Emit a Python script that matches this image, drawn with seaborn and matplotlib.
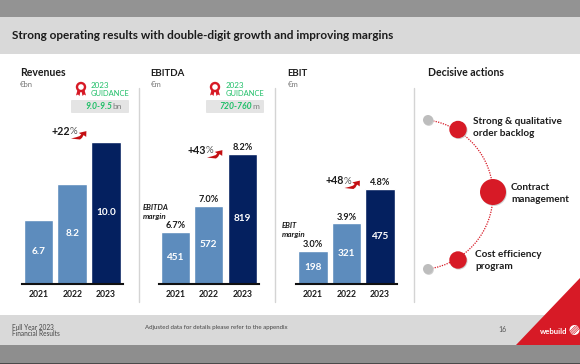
import numpy as np
import matplotlib
matplotlib.use("Agg")
import matplotlib.pyplot as plt
from matplotlib.patches import Rectangle, Polygon, Circle, Arc, FancyBboxPatch
import seaborn as sns

years = ["2021", "2022", "2023"]
revenues = [6.7, 8.2, 10.0]
revenue_labels = ["6.7", "8.2", "10.0"]
ebitda = [451, 572, 819]
ebitda_margin = ["6.7%", "7.0%", "8.2%"]
ebit = [198, 321, 475]
ebit_margin = ["3.0%", "3.9%", "4.8%"]

W, H = 580, 364
LIGHT, DARK = "#5d8cbd", "#04205f"
RED, GREEN = "#d71a26", "#20bf68"
INK = "#1c1c1c"

sns.set_theme(style="white")
plt.rcParams["font.family"] = ["Lato", "DejaVu Sans"]

fig = plt.figure(figsize=(W / 100, H / 100), dpi=100, facecolor="white")
bg = fig.add_axes([0, 0, 1, 1], zorder=0)
bg.set_xlim(0, W)
bg.set_ylim(H, 0)
bg.axis("off")


def txt(x, y, s, size=7.0, weight="normal", color=INK, style="normal", ha="left", ax=bg, z=6):
    return ax.text(x, y, s, fontsize=size, fontweight=weight, color=color, fontstyle=style,
                   ha=ha, va="center", zorder=z)


# Slide bands
bg.add_patch(Rectangle((0, 0), W, 17, color="#939393", lw=0))
bg.add_patch(Rectangle((0, 17), W, 37, color="#d9d9d9", lw=0))
bg.add_patch(Rectangle((0, 315), W, 30, color="#d9d9d9", lw=0))
bg.add_patch(Rectangle((0, 345), W, 19, color="#8e8e8e", lw=0))
bg.add_patch(Rectangle((0, 362.6), W, 1.4, color="#4a4a4a", lw=0))
bg.add_patch(Polygon([(516, 345), (580, 278), (580, 345)], closed=True, color=RED, lw=0))

txt(12, 35.5, "Strong operating results with double-digit growth and improving margins", 8.45, "bold")

# Column separators
for sx in (139, 275, 413.5):
    bg.plot([sx, sx], [88, 302], color="#d4d4d4", lw=1.0, zorder=2)


def panel(left, right, values, ylim, labels):
    axis = fig.add_axes([left / W, 1 - 283.5 / H, (right - left) / W, 153.5 / H], zorder=2)
    axis.patch.set_alpha(0)
    sns.barplot(x=years, y=values, hue=years, palette=[LIGHT, LIGHT, DARK], width=0.88,
                legend=False, saturation=1, ax=axis)
    axis.set_xlim(-0.5, 2.5)
    axis.set_ylim(*ylim)
    axis.set_yticks([])
    axis.set_ylabel("")
    sns.despine(ax=axis, left=True)
    axis.spines["bottom"].set_color("#111111")
    axis.spines["bottom"].set_linewidth(1.5)
    axis.tick_params(axis="x", length=0, pad=4.5, labelsize=6.2, labelcolor=INK)
    for t in axis.get_xticklabels():
        t.set_fontweight("bold")
    for i, (v, lab) in enumerate(zip(values, labels)):
        axis.text(i, (ylim[0] + v) / 2, lab, color="white", fontsize=7.2, fontweight="bold",
                  ha="center", va="center")
    return axis


rev_ax = panel(21.5, 123, revenues, (4, 10.5), revenue_labels)
ebitda_ax = panel(158.5, 259, ebitda, (206, 930), [str(v) for v in ebitda])
ebit_ax = panel(296, 397, ebit, (52, 738), [str(v) for v in ebit])

for axis, vals, margins in ((ebitda_ax, ebitda, ebitda_margin), (ebit_ax, ebit, ebit_margin)):
    for i, (v, m) in enumerate(zip(vals, margins)):
        axis.annotate(m, (i, v), xytext=(0, 1.2), textcoords="offset points", ha="center",
                      va="bottom", fontsize=6.6, fontweight="bold", color=INK)

# Panel headings
txt(20, 73, "Revenues", 7.6, "bold")
txt(150, 73, "EBITDA", 6.9, "bold")
txt(287, 73, "EBIT", 6.9, "bold")
txt(428, 73, "Decisive actions", 7.6, "bold")
txt(20, 84.5, "€bn", 5.6, color="#777777")
txt(151, 84.5, "€m", 5.6, color="#777777")
txt(288, 84.5, "€m", 5.6, color="#777777")

txt(143, 207, "EBITDA", 5.6, "bold", style="italic")
txt(143, 216, "margin", 5.8, "bold", style="italic")
txt(282, 226, "EBIT", 5.6, "bold", style="italic")
txt(282, 235, "margin", 5.8, "bold", style="italic")


# Guidance blocks
def guidance(ix, tx, box_l, box_r, bold_s, unit, bold_x):
    bg.add_patch(Circle((ix, 87), 4.0, fc="white", ec=RED, lw=1.7, zorder=4))
    bg.add_patch(Polygon([(ix - 3.5, 90), (ix - 0.5, 91), (ix - 1.5, 96), (ix - 3, 94.5), (ix - 5, 95.5)],
                         closed=True, color=RED, lw=0, zorder=3))
    bg.add_patch(Polygon([(ix + 3.5, 90), (ix + 0.5, 91), (ix + 1.5, 96), (ix + 3, 94.5), (ix + 5, 95.5)],
                         closed=True, color=RED, lw=0, zorder=3))
    txt(tx, 85, "2023", 5.8, color=GREEN)
    txt(tx, 94, "GUIDANCE", 5.4, color=GREEN)
    bg.add_patch(FancyBboxPatch((box_l + 1, 101), box_r - box_l - 2, 11, boxstyle="round,pad=1",
                                fc="#e4e4e4", ec="none", zorder=3))
    t = txt(bold_x, 106.5, bold_s, 6.2, "bold", color=GREEN, style="italic")
    fig.canvas.draw()
    ext = t.get_window_extent()
    txt(ext.x1 + 0.3, 106.5, unit, 6.0, color="#7d7d7d")


guidance(81, 91, 71, 129, "9.0-9.5", "bn", 85)
guidance(215, 225.7, 206, 264, "720-760", "m", 219)

# Swoosh outline of the growth arrows, relative to the tail tip
SWOOSH = [(0, 0), (5, 0.6), (9, 1.0), (11, -0.6), (12.6, -3.4), (15.2, -1.6), (15.4, -7.4),
          (7.8, -5.6), (10.2, -4.0), (8.6, -2.4), (5, -1.2)]


def growth(x, y, s, ax0, ay0):
    t = txt(x, y, s, 7.7, "bold")
    fig.canvas.draw()
    txt(t.get_window_extent().x1 + 0.3, y + 0.3, "%", 7.0, color="#555555")
    bg.add_patch(Polygon([(ax0 + a, ay0 + b) for a, b in SWOOSH], closed=True,
                         fc="#c40f12", ec="none", zorder=5))


growth(51, 131.5, "+22", 71, 138.5)
growth(187, 150.5, "+43", 207, 157.5)
growth(325, 181, "+48", 344.5, 188)

# Decisive actions diagram
bg.add_patch(Arc((417.8, 194.5), 150.4, 150.4, theta1=-82, theta2=82, color=RED, lw=0.9,
                 linestyle=(0, (1, 1)), zorder=3))
for x, y, r, c in ((428, 120, 5, "#bdbdbd"), (458, 129.5, 8.7, RED), (493, 192, 13, RED),
                   (458, 260, 8.7, RED), (428, 269, 5, "#bdbdbd")):
    bg.add_patch(Circle((x + 0.8, y + 0.9), r, fc="#cfcfcf", ec="none", zorder=3.5))
    bg.add_patch(Circle((x, y), r, fc=c, ec="none", zorder=4))

txt(473, 121.5, "Strong & qualitative", 7.2, "bold")
txt(473, 133, "order backlog", 7.2, "bold")
txt(511, 187, "Contract", 7.2, "bold")
txt(511, 199, "management", 7.2, "bold")
txt(475, 254.5, "Cost efficiency", 7.2, "bold")
txt(475, 266.5, "program", 7.2, "bold")

# Footer
txt(12, 327, "Full Year 2023", 4.7, color="#444444")
txt(12, 333.5, "Financial Results", 4.7, color="#444444")
txt(145, 327, "Adjusted data for details please refer to the appendix", 4.45, color="#444444")
txt(498, 330, "16", 5.0, color="#555555")
txt(540, 331.5, "webuild", 5.6, "bold", color="white")
bg.add_patch(Circle((574.5, 330), 5, fc="white", ec="none", zorder=6))
for d in (-3.2, -1.1, 1.1, 3.2):
    bg.plot([570.5 + d, 578.5 + d], [334, 326], color=RED, lw=0.5, zorder=7)

fig.savefig("out.png", dpi=100, facecolor="white")
